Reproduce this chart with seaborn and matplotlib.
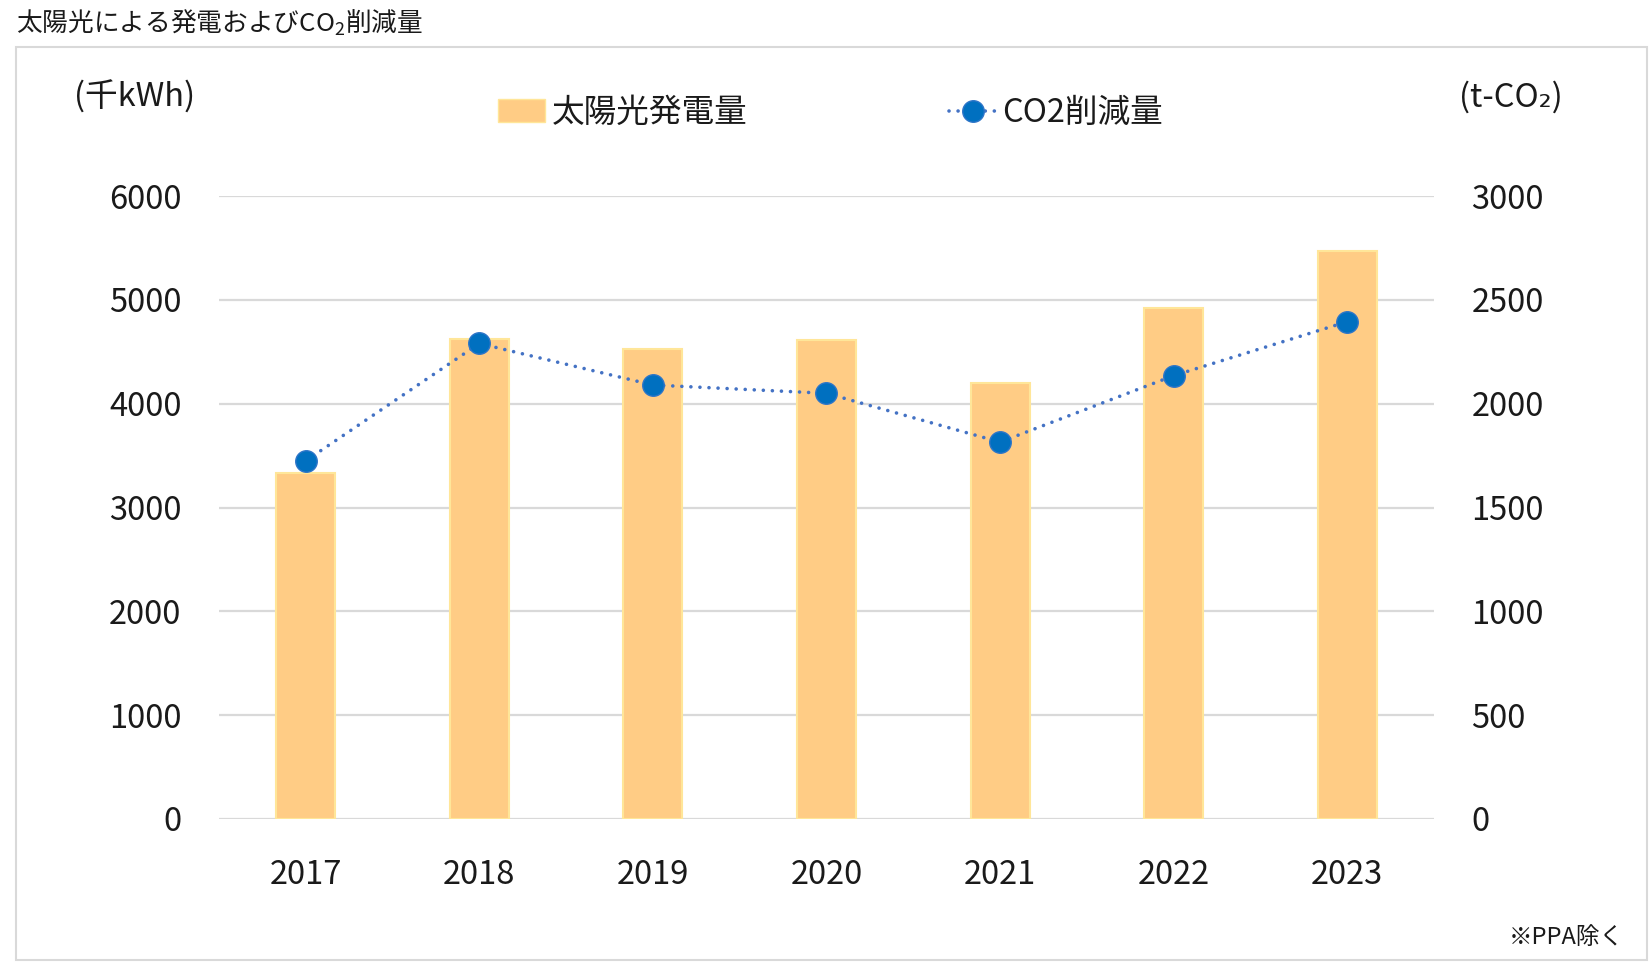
import numpy as np
import pandas as pd
import matplotlib
matplotlib.use('Agg')
import matplotlib.pyplot as plt
from matplotlib.lines import Line2D
from matplotlib.patches import Patch, Rectangle
import seaborn as sns

# values
years = ['2017', '2018', '2019', '2020', '2021', '2022', '2023']
power_kwh = [3330, 4620, 4525, 4610, 4195, 4920, 5470]   # 千kWh (left axis)
co2_reduction = [1725, 2290, 2090, 2050, 1815, 2135, 2395]  # t-CO2 (right axis)
left_ticks = [0, 1000, 2000, 3000, 4000, 5000, 6000]
right_ticks = [0, 500, 1000, 1500, 2000, 2500, 3000]

BAR_COLOR = '#FFCC85'
BAR_EDGE = '#FFE699'
MARKER_COLOR = '#0070C0'
MARKER_EDGE = '#2E75C8'
LINE_COLOR = '#4472C4'
GRID_COLOR = '#D9D9D9'
TEXT_COLOR = '#1A1A1A'
DOTS = (0, (0.01, 2.5))

sns.set_theme(style='white')
plt.rcParams['font.family'] = ['Noto Sans CJK JP', 'DejaVu Sans']
plt.rcParams['text.color'] = TEXT_COLOR
plt.rcParams['mathtext.fontset'] = 'custom'
plt.rcParams['mathtext.rm'] = 'Noto Sans CJK JP'
plt.rcParams['mathtext.default'] = 'regular'

df = pd.DataFrame({'year': years, 'power': power_kwh, 'co2': co2_reduction})

fig = plt.figure(figsize=(16.5, 9.69), dpi=100)
ax = fig.add_axes([0.1327, 0.1548, 0.7364, 0.6429])

# bars for generated power
sns.barplot(data=df, x='year', y='power', ax=ax, color=BAR_COLOR, width=0.34,
            edgecolor=BAR_EDGE, linewidth=1.5, saturation=1)

# dotted line with markers for CO2 reduction
ax2 = ax.twinx()
sns.pointplot(data=df, x='year', y='co2', ax=ax2, color=MARKER_COLOR,
              markers='o', linestyles=':', errorbar=None)
for ln in ax2.lines:
    ln.set_color(LINE_COLOR)
    ln.set_linestyle(DOTS)
    ln.set_linewidth(2.6)
    ln.set_dash_capstyle('round')
    ln.set_markersize(15.5)
    ln.set_markerfacecolor(MARKER_COLOR)
    ln.set_markeredgecolor(MARKER_EDGE)
    ln.set_markeredgewidth(1)

ax.set_xlim(-0.5, len(years) - 0.5)
ax.set_ylim(left_ticks[0], left_ticks[-1])
ax2.set_ylim(right_ticks[0], right_ticks[-1])
ax.set_yticks(left_ticks)
ax.set_yticklabels([str(t) for t in left_ticks])
ax2.set_yticks(right_ticks)
ax2.set_yticklabels([str(t) for t in right_ticks])

ax.set_axisbelow(True)
ax.yaxis.grid(True, color=GRID_COLOR, linewidth=1.6)
ax.xaxis.grid(False)
ax2.grid(False)
for a in (ax, ax2):
    for s in a.spines.values():
        s.set_visible(False)
    a.set_xlabel('')
    a.set_ylabel('')
ax.tick_params(axis='y', length=0, labelsize=23.5, pad=27, labelcolor=TEXT_COLOR)
ax.tick_params(axis='x', length=0, labelsize=23.5, pad=29, labelcolor=TEXT_COLOR)
ax2.tick_params(axis='y', length=0, labelsize=23.5, pad=27, labelcolor=TEXT_COLOR)

# legend
handles = [
    Patch(facecolor=BAR_COLOR, edgecolor=BAR_EDGE, label='太陽光発電量'),
    Line2D([], [], color=LINE_COLOR, linestyle=DOTS, linewidth=2.6,
           dash_capstyle='round', marker='o', markersize=15.5,
           markerfacecolor=MARKER_COLOR, markeredgecolor=MARKER_EDGE,
           label='CO2削減量'),
]
fig.legend(handles=handles, loc='center', bbox_to_anchor=(0.5035, 0.8834),
           ncol=2, frameon=False, fontsize=23.5, handlelength=1.44,
           handletextpad=0.18, columnspacing=6.2, borderpad=0)

# texts
fig.text(0.0097, 0.976, '太陽光による発電およびCO$_2$削減量', fontsize=18.5,
         ha='left', va='center')
fig.text(0.0818, 0.8999, '(千kWh)', fontsize=23.5, ha='center', va='center')
fig.text(0.9158, 0.8999, '(t-CO₂)', fontsize=23.5, ha='center', va='center')
fig.text(0.9842, 0.033, '※PPA除く', fontsize=17, ha='right', va='center')

# outer frame
fig.add_artist(Rectangle((0.0097, 0.0093), 0.9885, 0.9422, transform=fig.transFigure,
                         fill=False, edgecolor=GRID_COLOR, linewidth=1.5))

fig.savefig('out.png', dpi=100)
